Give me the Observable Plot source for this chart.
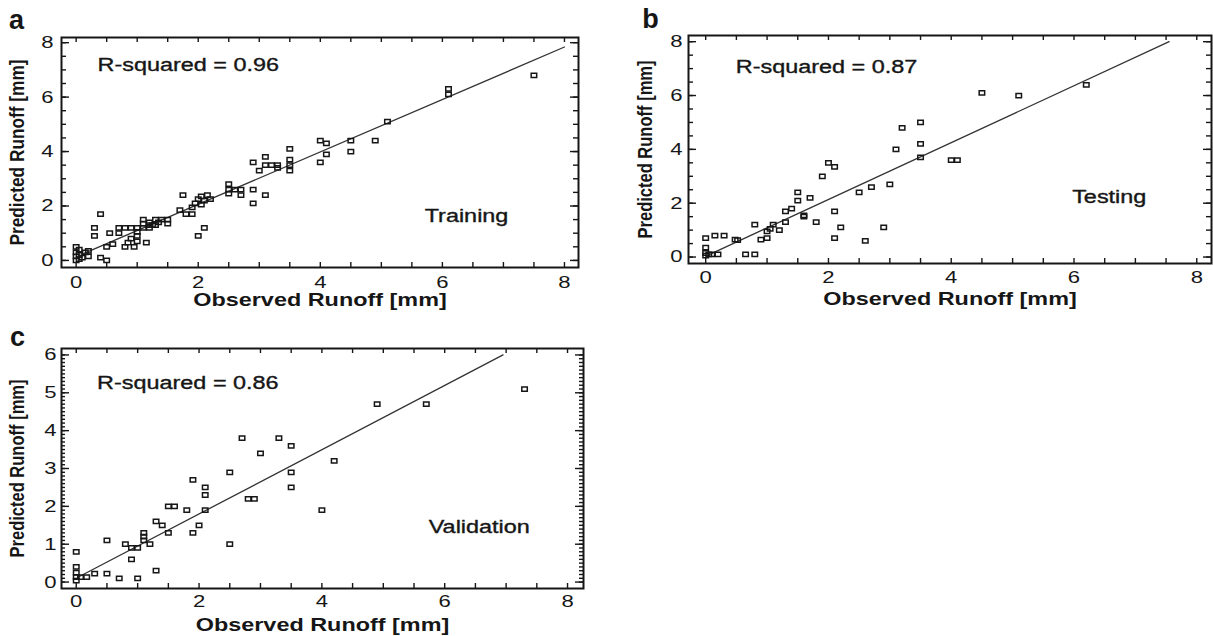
<!DOCTYPE html>
<html><head><meta charset="utf-8">
<script src="https://cdn.jsdelivr.net/npm/d3@7"></script>
<script src="https://cdn.jsdelivr.net/npm/@observablehq/plot@0.6"></script>
<style>
html,body{margin:0;padding:0;background:#fff;}
#root{position:relative;width:1213px;height:636px;overflow:hidden;font-family:"Liberation Sans",Arial,sans-serif;}
#root svg{position:absolute;overflow:visible;}
</style></head><body><div id="root"></div>
<script>
// ---------- data ----------
const xTickLabels = [0, 2, 4, 6, 8];
const yTickLabelsAB = [0, 2, 4, 6, 8];
const yTickLabelsC = [0, 1, 2, 3, 4, 5, 6];

const trainObs = [0,0,0,0,0.05,0.05,0.05,0.1,0.15,0.2,0.2,
  0.3,0.3,0.4,0.4,0.5,0.5,0.6,0.55,0.7,0.7,
  0.8,0.85,0.9,0.9,0.95,1.0,1.0,1.0,1.0,0.8,1.1,1.1,1.1,1.15,1.2,1.2,1.25,1.3,1.3,1.35,1.4,1.5,1.5,1.2,
  1.75,1.7,1.8,1.9,1.9,1.95,2.0,2.05,2.05,2.1,2.15,2.2,2.1,2.0,
  2.5,2.5,2.5,2.6,2.7,2.7,2.9,2.9,3.1,
  2.9,3.0,3.1,3.1,3.2,3.3,3.3,3.5,3.5,3.5,3.5,
  4.0,4.1,4.1,4.0,4.5,4.5,4.9,5.1,6.1,6.1,7.5];
const trainPred = [0.5,0.3,0.15,0,0.4,0.2,0.05,0.1,0.3,0.15,0.35,
  1.2,0.9,1.7,0.1,0.0,0.5,0.6,1.0,1.0,1.2,
  0.5,0.65,0.8,1.2,0.5,0.7,0.9,1.05,1.2,1.2,1.2,1.35,1.5,0.65,1.2,1.4,1.3,1.5,1.3,1.4,1.5,1.5,1.35,1.3,
  2.4,1.85,1.7,1.7,1.95,2.1,2.25,2.05,2.35,2.2,2.4,2.25,1.2,0.9,
  2.8,2.6,2.45,2.6,2.6,2.4,2.6,2.1,2.4,
  3.6,3.3,3.8,3.5,3.5,3.5,3.4,4.1,3.7,3.5,3.3,
  4.4,4.3,3.9,3.6,4.4,4.0,4.4,5.1,6.3,6.1,6.8];

const testObs = [0,0,0,0,0.05,0.1,0.2,0.15,0.3,0.48,0.52,0.65,0.8,0.8,0.9,1.0,1.0,1.05,1.1,1.2,1.3,1.3,1.4,1.5,1.5,1.6,1.6,1.7,1.8,1.9,2.0,2.1,2.1,2.2,2.1,2.5,2.7,2.6,3.0,2.9,3.1,3.2,3.5,3.5,3.5,4.0,4.1,4.5,5.1,6.2];
const testPred = [0.7,0.35,0.15,0.05,0.1,0.1,0.1,0.8,0.8,0.65,0.63,0.1,0.1,1.2,0.65,0.7,0.95,1.05,1.2,1.0,1.3,1.7,1.8,2.4,2.1,1.55,1.5,2.2,1.3,3.0,3.5,3.35,1.7,1.1,0.7,2.4,2.6,0.6,2.7,1.1,4.0,4.8,5.0,4.2,3.7,3.6,3.6,6.1,6.0,6.4];

const validObs = [0,0,0,0,0,0.07,0.17,0.3,0.5,0.5,0.7,0.8,0.9,0.9,1.0,1.0,1.1,1.1,1.1,1.2,1.3,1.4,1.3,1.5,1.5,1.6,1.8,1.9,1.9,2.0,2.1,2.1,2.1,2.5,2.5,2.7,2.8,2.9,3.0,3.3,3.5,3.5,3.5,4.0,4.2,4.9,5.7,7.3];
const validPred = [0.8,0.4,0.25,0.13,0.04,0.13,0.13,0.22,1.1,0.22,0.1,1.0,0.6,0.9,0.9,0.1,1.3,1.2,1.1,1.0,1.6,1.5,0.3,1.3,2.0,2.0,1.9,2.7,1.3,1.5,2.5,2.3,1.9,1.0,2.9,3.8,2.2,2.2,3.4,3.8,3.6,2.9,2.5,1.9,3.2,4.7,4.7,5.1];

// fitted lines (end points)
const fitTrainX = [0.12, 8.0], fitTrainY = [0.25, 7.84];
const fitTestX  = [0.05, 7.55], fitTestY  = [0.08, 8.0];
const fitValidX = [0.02, 6.95], fitValidY = [0.12, 6.0];

const rsqTexts = ["R-squared = 0.96", "R-squared = 0.87", "R-squared = 0.86"];
const setNames = ["Training", "Testing", "Validation"];
const panelLetters = ["a", "b", "c"];
const xTitle = "Observed Runoff [mm]";
const yTitle = "Predicted Runoff [mm]";

// ---------- drawing ----------
const INK = "#161616";
const sqSymbol = {draw(ctx, size) {
  const s = Math.sqrt(size);
  ctx.moveTo(-s*0.62, -s*0.48); ctx.lineTo(s*0.62, -s*0.48);
  ctx.lineTo(s*0.62, s*0.48); ctx.lineTo(-s*0.62, s*0.48); ctx.closePath();
}};

function panel(o) {
  const fw = o.width - o.ml - o.mr, fh = o.height - o.mt - o.mb;
  const xMinor = d3.range(0, 8.01, 0.5);
  const pts = o.obs.map((d, i) => ({x: d, y: o.pred[i]}));
  const line = o.lx.map((d, i) => ({x: d, y: o.ly[i]}));
  const tk = {stroke: INK, strokeWidth: 1.4};
  const svg = Plot.plot({
    width: o.width, height: o.height,
    marginLeft: o.ml, marginRight: o.mr, marginTop: o.mt, marginBottom: o.mb,
    style: {fontFamily: '"Liberation Sans", Arial, sans-serif', fontSize: "17px", color: INK, background: "transparent", overflow: "visible"},
    x: {domain: o.xDomain},
    y: {domain: o.yDomain},
    marks: [
      // inward ticks
      Plot.ruleX(xMinor, {x: d => d, insetTop: fh - 5, ...tk}),
      Plot.ruleX(xMinor, {x: d => d, insetBottom: fh - 5, ...tk}),
      Plot.ruleY(o.yMinor, {y: d => d, insetRight: fw - o.minorLen, ...tk}),
      Plot.ruleY(o.yMinor, {y: d => d, insetLeft: fw - o.minorLen, ...tk}),
      Plot.ruleY(o.yMajor, {y: d => d, insetRight: fw - 8, ...tk}),
      Plot.ruleY(o.yMajor, {y: d => d, insetLeft: fw - 8, ...tk}),
      Plot.axisX(xTickLabels, {anchor: "bottom", tickSize: 0, tickPadding: o.xPad, label: null, fontSize: 17, fill: INK}),
      Plot.axisY(o.yMajor, {anchor: "left", tickSize: 0, tickPadding: o.yPad, label: null, fontSize: 17, fill: INK}),
      Plot.line(line, {x: "x", y: "y", stroke: "#333", strokeWidth: 1.3}),
      Plot.dot(pts, {x: "x", y: "y", symbol: sqSymbol, r: 2.5, stroke: INK, strokeWidth: 1.5, fill: "none"}),
      Plot.text([o.rsq], {x: o.rsqAt[0], y: o.rsqAt[1], textAnchor: "start", fontSize: 18, fill: INK, stroke: INK, strokeWidth: 0.35}),
      Plot.text([o.name], {x: o.nameAt[0], y: o.nameAt[1], textAnchor: "start", fontSize: 18, fill: INK, stroke: INK, strokeWidth: 0.35}),
      Plot.text([xTitle], {frameAnchor: "bottom", dy: o.xTitleDy, lineAnchor: "middle", textAnchor: "middle", fontSize: 18, fontWeight: "bold", fill: INK}),
      Plot.text([yTitle], {frameAnchor: "left", rotate: -90, dx: o.yTitleDx, lineAnchor: "middle", textAnchor: "middle", fontSize: 20, fontWeight: "bold", fill: INK}),
      Plot.text([o.letter], {frameAnchor: "top-left", dx: o.letterOff[0], dy: o.letterOff[1], lineAnchor: "middle", textAnchor: "middle", fontSize: 27, fontWeight: "bold", fill: INK}),
      Plot.frame({stroke: INK, strokeWidth: 2})
    ]
  });
  svg.style.left = o.left + "px";
  svg.style.top = o.top + "px";
  document.getElementById("root").appendChild(svg);
  svg.querySelectorAll("text").forEach(t => {
    const s = t.textContent;
    if (panelLetters.includes(s)) return;
    const w = t.getComputedTextLength();
    const target = s === yTitle ? o.yTitleLen : w * 1.3;
    t.setAttribute("textLength", target.toFixed(1));
    t.setAttribute("lengthAdjust", "spacingAndGlyphs");
  });
}

panel({obs: trainObs, pred: trainPred, lx: fitTrainX, ly: fitTrainY,
  left: 0, top: 0, width: 600, height: 310, ml: 61, mr: 22, mt: 37, mb: 43,
  xDomain: [-0.24, 8.23], yDomain: [-0.26, 8.19],
  yMajor: yTickLabelsAB, yMinor: d3.range(0, 8.01, 0.5), minorLen: 5,
  xPad: 8, yPad: 8, rsq: rsqTexts[0], rsqAt: [0.35, 7.17], name: setNames[0], nameAt: [5.71, 1.62],
  xTitleDy: 33, yTitleDx: -44, yTitleLen: 186, letter: panelLetters[0], letterOff: [-45, -17]});

panel({obs: testObs, pred: testPred, lx: fitTestX, ly: fitTestY,
  left: 620, top: 0, width: 593, height: 315, ml: 68, mr: 2, mt: 35, mb: 52,
  xDomain: [-0.28, 8.24], yDomain: [-0.24, 8.23],
  yMajor: yTickLabelsAB, yMinor: d3.range(0, 8.01, 0.5), minorLen: 5,
  xPad: 7, yPad: 6, rsq: rsqTexts[1], rsqAt: [0.49, 7.04], name: setNames[1], nameAt: [5.97, 2.21],
  xTitleDy: 36, yTitleDx: -43, yTitleLen: 178, letter: panelLetters[1], letterOff: [-38, -16]});

panel({obs: validObs, pred: validPred, lx: fitValidX, ly: fitValidY,
  left: 0, top: 320, width: 600, height: 316, ml: 61, mr: 17, mt: 28, mb: 48,
  xDomain: [-0.24, 8.26], yDomain: [-0.17, 6.17],
  yMajor: yTickLabelsC, yMinor: d3.range(0, 6.001, 0.1), minorLen: 4,
  xPad: 6, yPad: 5, rsq: rsqTexts[2], rsqAt: [0.34, 5.24], name: setNames[2], nameAt: [5.74, 1.44],
  xTitleDy: 37, yTitleDx: -43.5, yTitleLen: 178, letter: panelLetters[2], letterOff: [-44, -11]});
</script></body></html>
